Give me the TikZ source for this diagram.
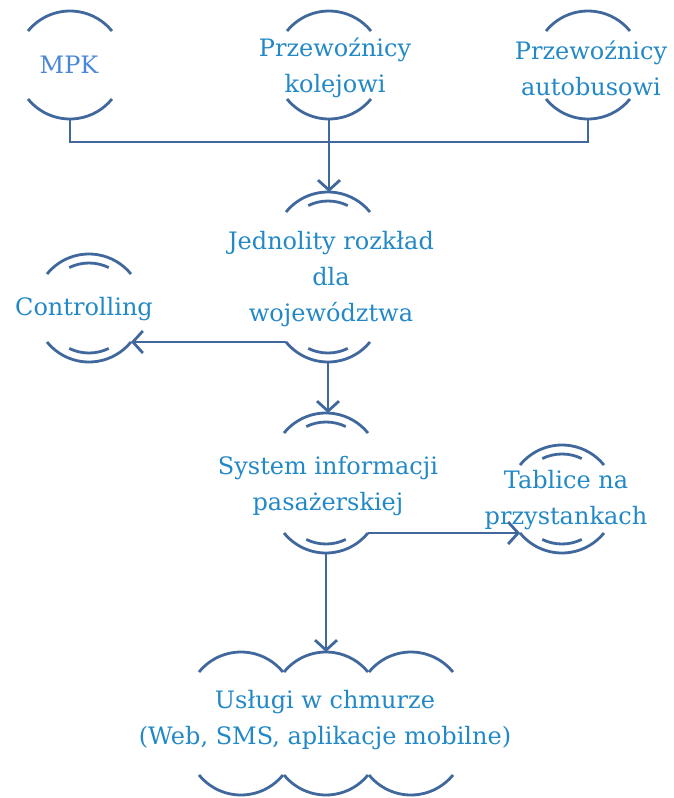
\documentclass[tikz,border=0pt]{standalone}
\usepackage{fontspec}
\setmainfont{DejaVu Serif}
\usetikzlibrary{arrows.meta}

\begin{document}
\begin{tikzpicture}[x=1pt, y=1pt,
    rim/.style={rimblue, line width=2.8pt},
    link/.style={rimblue, line width=2.8pt},
    arr/.style={link, -{Straight Barb[length=10pt, width=22pt]}},
    lbl/.style={text=txtblue, align=center, font=\fontsize{24}{36}\selectfont}]
    % --- Colores ---
    \definecolor{rimblue}{HTML}{41689C}
    \definecolor{txtblue}{HTML}{2388C6}
    \definecolor{mpkblue}{HTML}{4A88D6}

    \useasboundingbox (0,0) rectangle (673,-798);

    % --- Fila superior: MPK, przewoznicy ---
    \foreach \cx in {70,329,588} {
        \draw[rim] (\cx,-65) ++(141:54) arc[start angle=141, end angle=39, radius=54];
        \draw[rim] (\cx,-65) ++(219:54) arc[start angle=219, end angle=321, radius=54];
    }
    \node[lbl, text=mpkblue] (mpk) at (69,-65) {MPK};
    \node[lbl] (kol) at (335,-68) {Przewoźnicy\\kolejowi};
    \node[lbl] (aut) at (591,-68) {Przewoźnicy\\autobusowi};
    \coordinate (mpk-b) at (70,-119);
    \coordinate (kol-b) at (329,-119);
    \coordinate (aut-b) at (588,-119);
    \coordinate (junction) at (329,-142);

    % --- Jednolity rozklad (doble arco) ---
    \draw[rim] (328,-246) ++(141:54) arc[start angle=141, end angle=39, radius=54];
    \draw[rim] (328,-246) ++(116:45) arc[start angle=116, end angle=64, radius=45];
    \draw[rim] (328,-308) ++(219:54) arc[start angle=219, end angle=321, radius=54];
    \draw[rim] (328,-308) ++(244:45) arc[start angle=244, end angle=296, radius=45];
    \node[lbl] (jed) at (331,-279) {Jednolity rozkład\\dla\\województwa};
    \coordinate (jed-t) at (328,-192);
    \coordinate (jed-b) at (328,-362);
    \path (328,-308) ++(219:54) coordinate (jed-bl);

    % --- Controlling ---
    \draw[rim] (89,-308) ++(141:54) arc[start angle=141, end angle=39, radius=54];
    \draw[rim] (89,-308) ++(116:45) arc[start angle=116, end angle=64, radius=45];
    \draw[rim] (89,-308) ++(219:54) arc[start angle=219, end angle=321, radius=54];
    \draw[rim] (89,-308) ++(244:45) arc[start angle=244, end angle=296, radius=45];
    \node[lbl] (ctl) at (84,-309) {Controlling};
    \path (89,-308) ++(321:54) coordinate (ctl-br);

    % --- System informacji pasazerskiej ---
    \draw[rim] (326,-467) ++(141:54) arc[start angle=141, end angle=39, radius=54];
    \draw[rim] (326,-467) ++(116:45) arc[start angle=116, end angle=64, radius=45];
    \draw[rim] (326,-499) ++(219:54) arc[start angle=219, end angle=321, radius=54];
    \draw[rim] (326,-499) ++(244:45) arc[start angle=244, end angle=296, radius=45];
    \node[lbl] (sys) at (328,-486) {System informacji\\pasażerskiej};
    \coordinate (sys-t) at (326,-413);
    \coordinate (sys-b) at (326,-553);
    \path (326,-499) ++(321:54) coordinate (sys-br);

    % --- Tablice na przystankach ---
    \draw[rim] (562,-499) ++(141:54) arc[start angle=141, end angle=39, radius=54];
    \draw[rim] (562,-499) ++(116:45) arc[start angle=116, end angle=64, radius=45];
    \draw[rim] (562,-499) ++(219:54) arc[start angle=219, end angle=321, radius=54];
    \draw[rim] (562,-499) ++(244:45) arc[start angle=244, end angle=296, radius=45];
    \node[lbl] (tab) at (566,-500) {Tablice na\\przystankach};
    \path (562,-499) ++(219:54) coordinate (tab-bl);

    % --- Chmura: tres arcos arriba y abajo ---
    \foreach \cx in {241,326,411} {
        \draw[rim] (\cx,-706) ++(141:54) arc[start angle=141, end angle=39, radius=54];
        \draw[rim] (\cx,-741) ++(219:54) arc[start angle=219, end angle=321, radius=54];
    }
    \node[lbl] (cloud) at (325,-720) {Usługi w chmurze\\(Web, SMS, aplikacje mobilne)};
    \coordinate (cloud-t) at (326,-652);

    % --- Conectores ---
    \draw[link] (mpk-b) |- (junction) -| (aut-b);
    \draw[link] (kol-b) -- (junction);
    \draw[arr] (junction) -- (junction |- jed-t);
    \draw[arr] (jed-bl) -- (jed-bl -| ctl-br);
    \draw[arr] (jed-b) -- (jed-b |- sys-t);
    \draw[arr] (sys-br) -- (sys-br -| tab-bl);
    \draw[arr] (sys-b) -- (cloud-t);
\end{tikzpicture}
\end{document}
